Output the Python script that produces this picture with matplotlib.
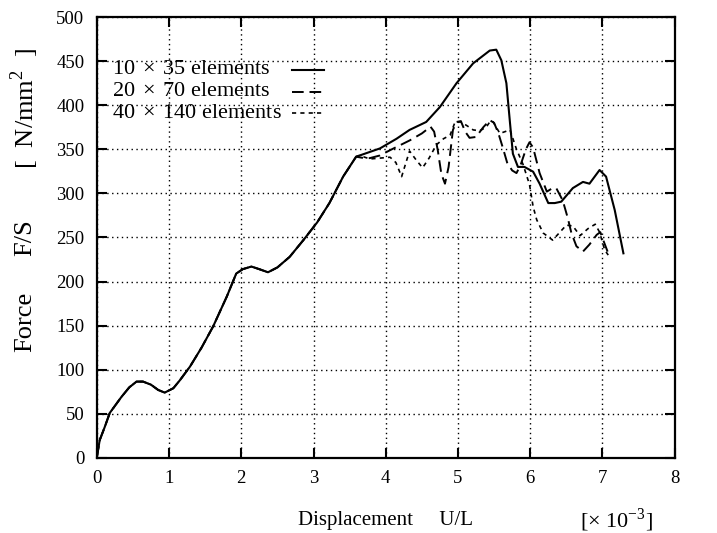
import matplotlib
matplotlib.use("Agg")
import matplotlib.pyplot as plt
import numpy as np

plt.rcParams["font.family"] = ["Liberation Serif", "DejaVu Serif"]
plt.rcParams["mathtext.fontset"] = "custom"
plt.rcParams["mathtext.rm"] = "Liberation Serif"

# common initial part of all three curves (displacement x1e-3, force)
base_x = [0.0, 0.04, 0.11, 0.18, 0.34, 0.45, 0.55, 0.64, 0.75, 0.85, 0.94,
          1.06, 1.15, 1.29, 1.45, 1.61, 1.80, 1.93, 2.02, 2.14, 2.25, 2.37,
          2.50, 2.67, 2.86, 3.05, 3.22, 3.41, 3.59]
base_y = [0, 20, 35, 51, 69, 80, 86.5, 86.5, 83, 77, 74,
          79, 88, 103.5, 125, 149, 183, 209, 214, 217, 214, 210.5,
          216, 228, 247, 267, 289, 319, 341.6]

# 10 x 35 elements
coarse_x = [3.78, 3.92, 4.15, 4.33, 4.56, 4.75, 4.98, 5.21, 5.44, 5.53,
            5.60, 5.67, 5.72, 5.76, 5.83, 5.92, 6.04, 6.13, 6.25, 6.34,
            6.43, 6.59, 6.73, 6.82, 6.96, 7.05, 7.17, 7.29]
coarse_y = [347, 351, 362, 372, 381, 398, 425, 447.5, 462, 463,
            451, 425, 380, 345, 330, 330, 324.6, 311, 289, 289,
            290.6, 306, 313, 311, 326.5, 319, 281, 232]

# 20 x 70 elements
medium_x = [3.70, 3.78, 3.92, 4.06, 4.33, 4.50, 4.62, 4.67, 4.72, 4.77,
            4.82, 4.87, 4.93, 4.98, 5.04, 5.10, 5.16, 5.25, 5.35, 5.44,
            5.50, 5.56, 5.62, 5.68, 5.75, 5.81, 5.87, 5.94, 5.99, 6.04,
            6.13, 6.23, 6.31, 6.36, 6.45, 6.52, 6.57, 6.64, 6.73, 6.82,
            6.92, 6.97, 7.02, 7.08]
medium_y = [340, 340, 343, 349, 360, 368, 375.6, 370, 349, 322,
            311, 330, 372, 381, 382, 370, 363, 364, 375, 383,
            380, 368, 352, 335, 326, 323, 333, 350, 358, 352,
            323, 302, 306, 306, 292, 272, 255, 240, 234, 242,
            253, 256, 245, 232]

# 40 x 140 elements
fine_x = [3.64, 3.78, 3.92, 4.06, 4.14, 4.22, 4.28, 4.33, 4.42, 4.51,
          4.60, 4.70, 4.80, 4.89, 4.96, 5.04, 5.12, 5.21, 5.30, 5.39,
          5.44, 5.48, 5.58, 5.65, 5.72, 5.81, 5.90, 5.99, 6.04, 6.09,
          6.18, 6.31, 6.40, 6.50, 6.59, 6.69, 6.80, 6.90, 6.96, 7.03, 7.08]
fine_y = [343, 339, 340, 341, 335, 319, 335, 348, 338, 329,
          340, 355, 362, 366, 381, 381, 377, 372, 371, 375,
          381, 382, 368, 370, 372, 350, 333, 310, 285, 270,
          255, 247, 255, 264, 263, 252, 260, 265, 256, 236, 230]

labels = [r"10$\,\times\,$35 elements", r"20$\,\times\,$70 elements",
          r"40$\,\times\,$140 elements"]

fig = plt.figure(figsize=(7.17, 5.33), dpi=100)
ax = fig.add_axes([0.135, 0.141, 0.806, 0.827])

styles = [dict(lw=1.5, linestyle="-"),
          dict(lw=1.4, dashes=(6, 3)),
          dict(lw=1.2, dashes=(2.5, 2.5))]
series = [(base_x + coarse_x, base_y + coarse_y),
          (base_x + medium_x, base_y + medium_y),
          (base_x + fine_x, base_y + fine_y)]

for (xs, ys), st in zip(series, styles):
    ax.plot(xs, ys, color="black", **st)

ax.set_xlim(0, 8)
ax.set_ylim(0, 500)
ax.set_xticks(np.arange(0, 9, 1))
ax.set_yticks(np.arange(0, 501, 50))
ax.grid(True, color="black", linestyle=(0, (1, 2.5)), linewidth=1.0)

for s in ax.spines.values():
    s.set_linewidth(1.6)
ax.tick_params(direction="in", length=7, width=1.5, labelsize=13.5,
               top=True, right=True, pad=9)

# key: text left aligned, samples right aligned (gnuplot style)
key_rows = [0.880, 0.831, 0.782]
for lab, st, ky in zip(labels, styles, key_rows):
    ax.text(0.026, ky, lab, transform=ax.transAxes, fontsize=16,
            ha="left", va="center")
    ax.plot([0.337, 0.394], [ky, ky], transform=ax.transAxes,
            color="black", **st)

# y label in three pieces, as spaced in the original
H = 533.0
fig.text(0.035, 1 - 322 / H, "Force", fontsize=19, rotation=90,
         ha="center", va="center")
fig.text(0.035, 1 - 238 / H, "F/S", fontsize=19, rotation=90,
         ha="center", va="center")
fig.text(0.035, 1 - 108 / H, r"[  N/mm$^{2}$  ]", fontsize=19, rotation=90,
         ha="center", va="center")

ax.set_xlabel("Displacement     U/L", fontsize=15, labelpad=17)
fig.text(616 / 717, 1 - 527 / H, r"[$\times$ 10$^{-3}$]", fontsize=16,
         ha="center", va="baseline")

fig.savefig("out.png", dpi=100)
